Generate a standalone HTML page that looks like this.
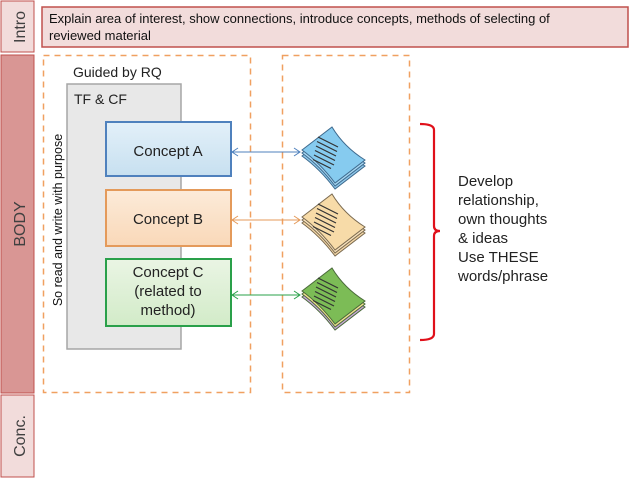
<!DOCTYPE html>
<html><head><meta charset="utf-8"><style>
html,body{margin:0;padding:0;background:#fff;}
svg{display:block;font-family:"Liberation Sans",sans-serif;}
</style></head><body>
<svg width="638" height="479" viewBox="0 0 638 479" xmlns="http://www.w3.org/2000/svg">
<defs>
<linearGradient id="gA" x1="0" y1="0" x2="0" y2="1"><stop offset="0" stop-color="#e3f0f9"/><stop offset="1" stop-color="#c7e0f0"/></linearGradient>
<linearGradient id="gB" x1="0" y1="0" x2="0" y2="1"><stop offset="0" stop-color="#fcebd9"/><stop offset="1" stop-color="#f9d8b8"/></linearGradient>
<linearGradient id="gC" x1="0" y1="0" x2="0" y2="1"><stop offset="0" stop-color="#eaf5e4"/><stop offset="1" stop-color="#d2ebc8"/></linearGradient>
<g id="paper"><path d="M0,23 L30,0 Q42,20 63,33 L33,56 Q18,36 0,23 Z"/></g>
<g id="lines"><path d="M16,10 l20,10 M15,14.5 l20,10 M14,19 l20,10 M13,23.5 l20,10 M12,28 l20,10 M11,32.5 l18,9"/></g>
</defs>
<rect x="1" y="1" width="33" height="51" fill="#f2dcdb" stroke="#c0504d" stroke-width="1"/>
<rect x="1" y="55" width="33" height="338" fill="#d99694" stroke="#c0504d" stroke-width="1"/>
<rect x="1" y="395" width="33" height="82" fill="#f2dcdb" stroke="#c0504d" stroke-width="1"/>
<text transform="translate(25,27) rotate(-90)" text-anchor="middle" font-size="16" fill="#404040">Intro</text>
<text transform="translate(25,224) rotate(-90)" text-anchor="middle" font-size="16" fill="#404040">BODY</text>
<text transform="translate(25,436) rotate(-90)" text-anchor="middle" font-size="16" fill="#404040">Conc.</text>
<rect x="42" y="7" width="586" height="40" fill="#f2dcdb" stroke="#c0504d" stroke-width="1.5"/>
<text x="49" y="23" font-size="13" fill="#111">Explain area of interest, show connections, introduce concepts, methods of selecting of</text>
<text x="49" y="40" font-size="13" fill="#111">reviewed material</text>
<rect x="43.5" y="55.5" width="207" height="337" fill="none" stroke="#f0a060" stroke-width="1.5" stroke-dasharray="6,5"/>
<rect x="282.5" y="55.5" width="127" height="337" fill="none" stroke="#f0a060" stroke-width="1.5" stroke-dasharray="6,5"/>
<text x="73" y="77" font-size="14" fill="#222">Guided by RQ</text>
<rect x="67" y="84" width="114" height="265" fill="#e8e8e8" stroke="#a6a6a6" stroke-width="1.5"/>
<text x="74" y="104" font-size="14" fill="#222">TF &amp; CF</text>
<text transform="translate(62,220) rotate(-90)" text-anchor="middle" font-size="12.5" fill="#111">So read and write with purpose</text>
<rect x="106" y="122" width="125" height="54" fill="url(#gA)" stroke="#4f81bd" stroke-width="2"/>
<text x="168" y="156" text-anchor="middle" font-size="15" fill="#222">Concept A</text>
<rect x="106" y="190" width="125" height="56" fill="url(#gB)" stroke="#e49a5a" stroke-width="2"/>
<text x="168" y="224" text-anchor="middle" font-size="15" fill="#222">Concept B</text>
<rect x="106" y="259" width="125" height="67" fill="url(#gC)" stroke="#2aa04a" stroke-width="2"/>
<text x="168" y="277" text-anchor="middle" font-size="15" fill="#222">Concept C</text>
<text x="168" y="296" text-anchor="middle" font-size="15" fill="#222">(related to</text>
<text x="168" y="315" text-anchor="middle" font-size="15" fill="#222">method)</text>
<g fill="none" stroke-width="1">
<path d="M232,152 L300,152 M238,148 L232,152 L238,156 M294,148 L300,152 L294,156" stroke="#4f81bd"/>
<path d="M232,220 L300,220 M238,216 L232,220 L238,224 M294,216 L300,220 L294,224" stroke="#e49a5a"/>
<path d="M232,295 L300,295 M238,291 L232,295 L238,299 M294,291 L300,295 L294,299" stroke="#2aa04a"/>
</g>
<g transform="translate(302,127)" stroke="#3e6a8e" stroke-width="1">
<use href="#paper" y="6" fill="#8fc8ea"/><use href="#paper" y="3" fill="#a8d8f2"/><use href="#paper" fill="#86cbef"/>
<use href="#lines" stroke="#333" stroke-width="1.2"/>
</g>
<g transform="translate(302,194)" stroke="#7a6a50" stroke-width="1">
<use href="#paper" y="6" fill="#f5d8a8"/><use href="#paper" y="3" fill="#f8e2bc"/><use href="#paper" fill="#f7dba8"/>
<use href="#lines" stroke="#333" stroke-width="1.2"/>
</g>
<g transform="translate(302,268)" stroke="#4a6a3a" stroke-width="1">
<use href="#paper" y="6" fill="#c8a8d8"/><use href="#paper" y="3" fill="#f0e090"/><use href="#paper" fill="#7cbc56"/>
<use href="#lines" stroke="#333" stroke-width="1.2"/>
</g>
<path d="M420,124 Q434,124 434,130 L434,226 Q434,231 440,231 Q434,231 434,236 L434,334 Q434,340 420,340" fill="none" stroke="#e0101a" stroke-width="2.2"/>
<g font-size="15" fill="#222">
<text x="458" y="186">Develop</text>
<text x="458" y="205">relationship,</text>
<text x="458" y="224">own thoughts</text>
<text x="458" y="243">&amp; ideas</text>
<text x="458" y="262">Use THESE</text>
<text x="458" y="281">words/phrase</text>
</g>
</svg>
</body></html>
